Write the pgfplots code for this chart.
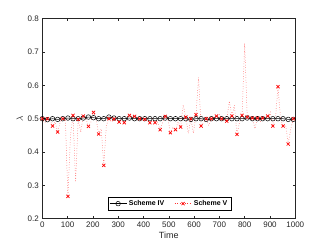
\documentclass[border=0pt]{standalone}
\usepackage{pgfplots}
\usepackage{pgfplotstable}
\pgfplotsset{compat=1.18}
\usepackage{fontspec}
\setmainfont{Liberation Sans}
\definecolor{axgray}{rgb}{0.15,0.15,0.15}

\pgfplotstableread{
t v
0 0.500
20.25 0.497
40.5 0.500
60.75 0.498
81 0.500
101.25 0.502
121.5 0.500
141.75 0.500
162 0.502
182.25 0.505
202.5 0.503
222.75 0.500
243 0.500
263.25 0.505
283.5 0.502
303.75 0.500
324 0.500
344.25 0.502
364.5 0.500
384.75 0.500
405 0.500
425.25 0.500
445.5 0.500
465.75 0.500
486 0.502
506.25 0.500
526.5 0.500
546.75 0.500
567 0.500
587.25 0.498
607.5 0.500
627.75 0.500
648 0.498
668.25 0.500
688.5 0.500
708.75 0.500
729 0.500
749.25 0.500
769.5 0.500
789.75 0.500
810 0.502
830.25 0.500
850.5 0.500
870.75 0.500
891 0.500
911.25 0.500
931.5 0.500
951.75 0.500
972 0.498
992.25 0.498
}\schemefour

\pgfplotstableread{
t v
0 0.500
10.125 0.488
20.25 0.500
30.375 0.495
40.5 0.478
50.625 0.490
60.75 0.460
70.875 0.490
81 0.500
91.125 0.500
101.25 0.267
111.375 0.450
121.5 0.510
131.625 0.310
141.75 0.498
151.875 0.460
162 0.508
172.125 0.500
182.25 0.477
192.375 0.490
202.5 0.519
212.625 0.500
222.75 0.454
232.875 0.470
243 0.360
253.125 0.480
263.25 0.500
273.375 0.490
283.5 0.499
293.625 0.500
303.75 0.490
313.875 0.500
324 0.488
334.125 0.495
344.25 0.510
354.375 0.505
364.5 0.507
374.625 0.495
384.75 0.500
394.875 0.500
405 0.498
415.125 0.495
425.25 0.488
435.375 0.500
445.5 0.488
455.625 0.490
465.75 0.467
475.875 0.490
486 0.507
496.125 0.500
506.25 0.458
516.375 0.475
526.5 0.467
536.625 0.490
546.75 0.475
556.875 0.541
567 0.505
577.125 0.456
587.25 0.500
597.375 0.456
607.5 0.512
617.625 0.624
627.75 0.478
637.875 0.490
648 0.500
658.125 0.480
668.25 0.500
678.375 0.505
688.5 0.508
698.625 0.515
708.75 0.500
718.875 0.500
729 0.493
739.125 0.553
749.25 0.508
759.375 0.540
769.5 0.453
779.625 0.490
789.75 0.510
799.875 0.726
810 0.505
820.125 0.500
830.25 0.502
840.375 0.470
850.5 0.502
860.625 0.490
870.75 0.502
880.875 0.500
891 0.508
901.125 0.520
911.25 0.478
921.375 0.500
931.5 0.596
941.625 0.500
951.75 0.478
961.875 0.480
972 0.424
982.125 0.470
992.25 0.500
}\schemefive

\begin{document}
\begin{tikzpicture}
\begin{axis}[
  scale only axis,
  width=253pt, height=200pt,
  xmin=0, xmax=1000, ymin=0.2, ymax=0.8,
  xtick={0,100,...,1000},
  ytick={0.2,0.3,...,0.8},
  xticklabel style={/pgf/number format/1000 sep={}},
  yticklabel style={/pgf/number format/fixed,/pgf/number format/precision=1,/pgf/number format/fixed zerofill},
  /pgf/number format/assume math mode=true,
  tick align=inside,
  tick pos=both,
  major tick length=2.5pt,
  axis line style={axgray, line width=0.5pt},
  every tick/.style={axgray, line width=0.5pt},
  ticklabel style={font=\fontsize{8}{9}\selectfont, text=axgray},
  xlabel={Time},
  ylabel={$\lambda$},
  xlabel style={font=\fontsize{9}{10}\selectfont, text=axgray, yshift=3pt},
  ylabel style={font=\fontsize{9}{10}\selectfont, text=axgray, yshift=-2pt},
  legend style={at={(0.502,0.04)}, anchor=south, draw=black, line width=0.5pt,
    font=\fontsize{7}{8}\selectfont\bfseries, legend columns=2,
    /tikz/every even column/.append style={column sep=8pt},
    inner sep=1.5pt},
]
\addplot[black, line width=0.5pt, mark=o, mark size=2.3pt, mark options={solid, line width=0.5pt}] table[x=t,y=v] {\schemefour};
\addlegendentry{Scheme IV}
\addplot[red!80!white, dotted, line width=0.5pt, mark=x, mark repeat=2, mark size=2.2pt, mark options={solid, red, line width=0.7pt}] table[x=t,y=v] {\schemefive};
\addlegendentry{Scheme V}
\end{axis}
\path (-42.3pt,-26pt) rectangle (284.7pt,218.7pt);
\end{tikzpicture}
\end{document}
